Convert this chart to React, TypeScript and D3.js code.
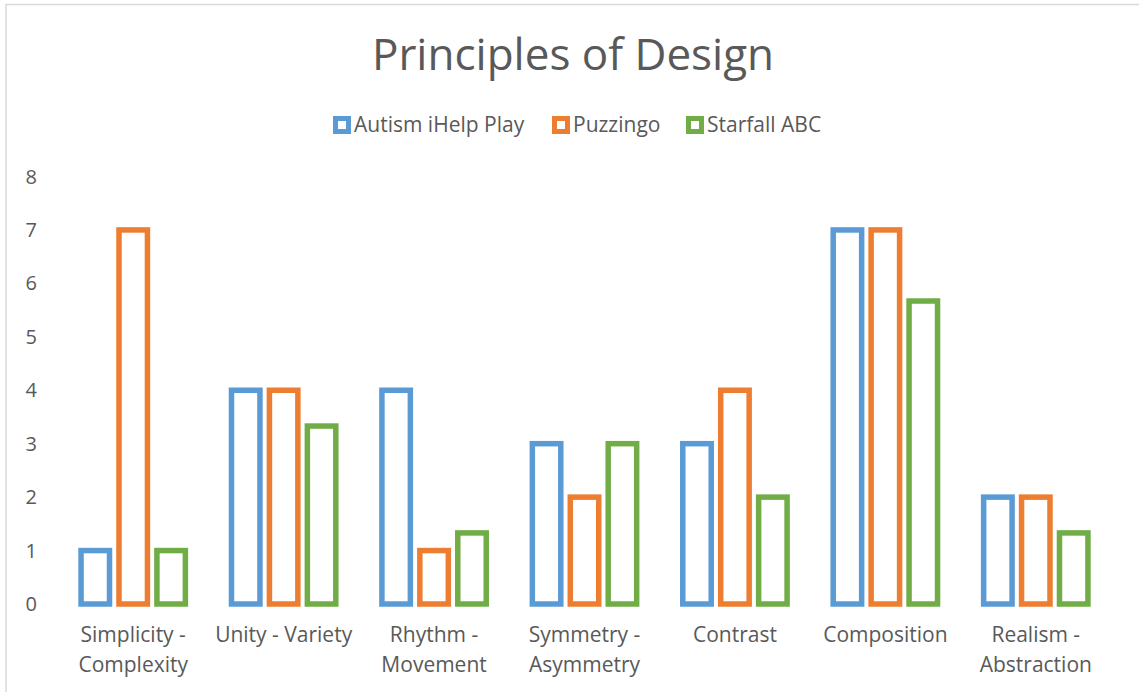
import React from 'react';
import * as d3 from 'd3';

const categories = [
  ['Simplicity -', 'Complexity'],
  ['Unity - Variety'],
  ['Rhythm -', 'Movement'],
  ['Symmetry -', 'Asymmetry'],
  ['Contrast'],
  ['Composition'],
  ['Realism -', 'Abstraction'],
];
const seriesNames = ['Autism iHelp Play', 'Puzzingo', 'Starfall ABC'];
const seriesColors = ['#5b9bd5', '#ed7d31', '#70ad47'];
const autismValues = [1, 4, 4, 3, 3, 7, 2];
const puzzingoValues = [7, 4, 1, 2, 4, 7, 2];
const starfallValues = [1, 3.33, 1.33, 3, 2, 5.67, 1.33];
const yTicks = [0, 1, 2, 3, 4, 5, 6, 7, 8];

const W = 1139;
const H = 692;
const FONT = '"Open Sans", Lato, sans-serif';
const TEXT = '#595959';
const SW = 5.5;

export default function App() {
  const values = [autismValues, puzzingoValues, starfallValues];
  const keys = categories.map((c) => c.join(' '));

  const x0 = d3.scaleBand<string>().domain(keys).range([58, 1111]).paddingInner(0.27).paddingOuter(0.135);
  const x1 = d3.scaleBand<string>().domain(seriesNames).range([0, x0.bandwidth()]).paddingInner(0.105);
  const y = d3.scaleLinear().domain([0, 8]).range([604, 176.5]);

  // legend layout
  const legendX = [333, 552, 686];

  return (
    <svg width={W} height={H} style={{ position: 'absolute', left: 0, top: 0, background: '#fff' }}>
      <rect x={6} y={4.5} width={W + 10} height={H + 10} fill="#fff" stroke="#d9d9d9" strokeWidth={1.5} />
      <text x={573} y={70} textAnchor="middle" fontFamily={FONT} fontSize={44} fill={TEXT}>
        Principles of Design
      </text>

      {seriesNames.map((s, i) => (
        <g key={s}>
          <rect x={legendX[i] + 2.5} y={118.5} width={13} height={13} fill="#fff" stroke={seriesColors[i]} strokeWidth={5} />
          <text x={legendX[i] + 21} y={132} fontFamily={FONT} fontSize={21} fill={TEXT}>
            {s}
          </text>
        </g>
      ))}

      {yTicks.map((t) => (
        <text key={t} x={37} y={y(t)} dy="0.35em" textAnchor="end" fontFamily={FONT} fontSize={20} fill={TEXT}>
          {t}
        </text>
      ))}

      {keys.map((k, ci) => (
        <g key={k} transform={`translate(${x0(k)},0)`}>
          {seriesNames.map((s, si) => {
            const v = values[si][ci];
            return (
              <rect
                key={s}
                x={(x1(s) as number) + SW / 2}
                y={y(v)}
                width={x1.bandwidth() - SW}
                height={y(0) - y(v)}
                fill="#fff"
                stroke={seriesColors[si]}
                strokeWidth={SW}
              />
            );
          })}
          <text x={x0.bandwidth() / 2} y={642} textAnchor="middle" fontFamily={FONT} fontSize={21} fill={TEXT}>
            {categories[ci].map((line, li) => (
              <tspan key={li} x={x0.bandwidth() / 2} dy={li === 0 ? 0 : 30}>
                {line}
              </tspan>
            ))}
          </text>
        </g>
      ))}
    </svg>
  );
}
